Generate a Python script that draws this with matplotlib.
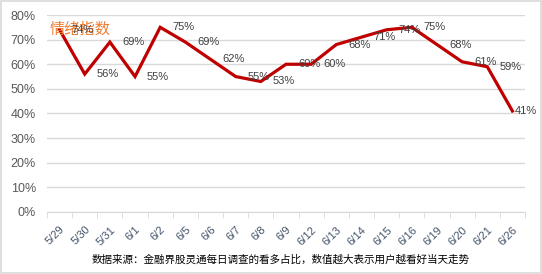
import matplotlib.pyplot as plt
import numpy as np

plt.rcParams['font.family'] = ['Liberation Sans', 'Noto Sans CJK SC', 'DejaVu Sans']

# data
dates = ['5/29', '5/30', '5/31', '6/1', '6/2', '6/5', '6/6', '6/7', '6/8', '6/9',
         '6/12', '6/13', '6/14', '6/15', '6/16', '6/19', '6/20', '6/21', '6/26']
values = [74, 56, 69, 55, 75, 69, 62, 55, 53, 60,
          60, 68, 71, 74, 75, 68, 61, 59, 41]
yticks = [0, 10, 20, 30, 40, 50, 60, 70, 80]

W, H = 542, 274
fig = plt.figure(figsize=(W / 100, H / 100), dpi=100)
ax = fig.add_axes([47 / W, 1 - 212 / H, (525 - 47) / W, (212 - 15) / H])

x = np.arange(len(dates))
ax.plot(x, values, color='#C00000', lw=2.3, solid_joinstyle='miter', zorder=3)

for i, (xi, v) in enumerate(zip(x, values)):
    # last label gets pulled in so it stays inside the frame (like excel does)
    off = 2 if i == len(values) - 1 else 12
    ax.annotate(f'{v}%', (xi, v), xytext=(off, 0), textcoords='offset pixels',
                ha='left', va='center', fontsize=8, color='#404040', zorder=4)

ax.set_xlim(-0.5, len(dates) - 0.5)
ax.set_ylim(0, 80)
ax.set_yticks(yticks)
ax.set_yticklabels([f'{t}%' for t in yticks], fontsize=9, color='#595959')
ax.yaxis.grid(True, color='#D9D9D9', lw=1)
ax.set_axisbelow(True)
ax.tick_params(axis='y', length=0, pad=8)

ax.set_xticks(x)
ax.set_xticklabels(dates, rotation=45, ha='right', rotation_mode='anchor',
                   fontsize=8, color='#44546A')
ax.set_xticks(np.arange(-0.5, len(dates)), minor=True)
ax.tick_params(axis='x', which='major', length=0, pad=9)
ax.tick_params(axis='x', which='minor', length=4, color='#D9D9D9')

for s in ['top', 'right', 'left']:
    ax.spines[s].set_visible(False)
ax.spines['bottom'].set_color('#D9D9D9')

ax.text(0.005, 0.93, '情绪指数', transform=ax.transAxes,
        fontsize=11, color='#ED7D31', family=['Noto Sans CJK SC'],
        ha='left', va='center')

fig.text(281 / W, 1 - 260 / H,
         '数据来源：金融界股灵通每日调查的看多占比，数值越大表示用户越看好当天走势',
         fontsize=7.6, color='black', ha='center', va='center',
         family=['Noto Sans CJK SC', 'DejaVu Sans'])

# light border around the whole picture
fig.patches.append(plt.Rectangle((0.001, 0.002), 0.997, 0.995, transform=fig.transFigure,
                                 fill=False, edgecolor='#D9D9D9', lw=1.2))

fig.savefig('out.png', dpi=100)
